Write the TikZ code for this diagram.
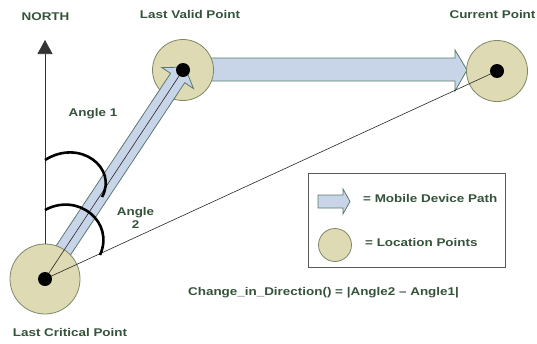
\documentclass[tikz,border=0pt]{standalone}
\usepackage{fontspec}
\setmainfont{Liberation Sans}[FakeStretch=1.2]
\usetikzlibrary{arrows.meta,calc}
\definecolor{txtgreen}{HTML}{35533A}
\definecolor{ptfill}{HTML}{DEDAB4}
\definecolor{ptedge}{HTML}{7E8868}
\definecolor{arrfill}{HTML}{C8D5E8}
\definecolor{arredge}{HTML}{587A6E}
\begin{document}
\begin{tikzpicture}[x=1pt,y=-1pt,
  lbl/.style={text=txtgreen,font=\fontsize{11.2}{13.5}\selectfont\bfseries,inner sep=0pt,align=center},
  locpt/.style={circle,draw=ptedge,fill=ptfill,line width=0.8pt,inner sep=0pt},
  dot/.style={circle,fill=black,inner sep=0pt,minimum size=14pt},
  blockarrow/.style={draw=arredge,fill=arrfill,line width=0.8pt,line join=miter},
  thinline/.style={draw=black!85,line width=0.6pt},
  anglearc/.style={draw=black,line width=2.6pt}]
\useasboundingbox (0,0) rectangle (537,343);

% horizontal block arrow (Last Valid Point -> Current Point)
\draw[blockarrow] (205,58) -- (455,58) -- (455,50) -- (467,70) -- (455,91) -- (455,81) -- (205,81) -- cycle;

% location points
\node[locpt,minimum size=61pt] (lvp) at (183,70) {};
\node[locpt,minimum size=61pt] (cp) at (497,71) {};

% diagonal block arrow (Last Critical Point -> Last Valid Point)
\begin{scope}[shift={(45,278)},rotate=56.44,y=1pt]
  \draw[blockarrow] (0,-8.5) -- (240,-8.5) -- (240,-19) -- (253,0) -- (240,19) -- (240,8.5) -- (0,8.5) -- cycle;
\end{scope}

\node[locpt,minimum size=70pt] (lcp) at (45,279) {};

% north arrow
\coordinate (northtip) at (45,40);
\draw[draw=black!80,line width=0.7pt,-{Triangle[length=14pt,width=15pt]}] (lcp.north) -- (northtip);

% thin lines
\draw[thinline] (lcp.center) -- (lvp.center);
\draw[thinline] (lcp.center) -- (cp.center);

% dots
\node[dot] (lcpdot) at (lcp.center) {};
\node[dot] (lvpdot) at (lvp.center) {};
\node[dot] (cpdot) at (cp.center) {};

% angle arcs
\draw[anglearc] (45,160) .. controls (80,138) and (118,168) .. (102,197);
\draw[anglearc] (45,210) .. controls (78,192) and (115,222) .. (100,255);

% labels
\node[lbl] (north) at (45.5,16.5) {NORTH};
\node[lbl] (lvplbl) at (190,14.5) {Last Valid Point};
\node[lbl] (cplbl) at (492.5,14.5) {Current Point};
\node[lbl] (lcplbl) at (70,332) {Last Critical Point};
\node[lbl] (a1) at (93,114) {Angle 1};
\node[lbl] (a2) at (135.5,218) {Angle\\2};
\node[lbl] (formula) at (323.5,293) {Change\_in\_Direction() = |Angle2 -- Angle1|};

% legend
\draw[draw=black!65,line width=1pt] (308,173) rectangle (505,267);
\draw[blockarrow] (318,195) -- (343,195) -- (343,189) -- (350,201.5) -- (343,214) -- (343,208) -- (318,208) -- cycle;
\node[locpt,minimum size=33pt] (legpt) at (335,245) {};
\node[lbl,anchor=west] (legarr) at (363,198) {= Mobile Device Path};
\node[lbl,anchor=west] (legloc) at (365,242) {= Location Points};
\end{tikzpicture}
\end{document}
